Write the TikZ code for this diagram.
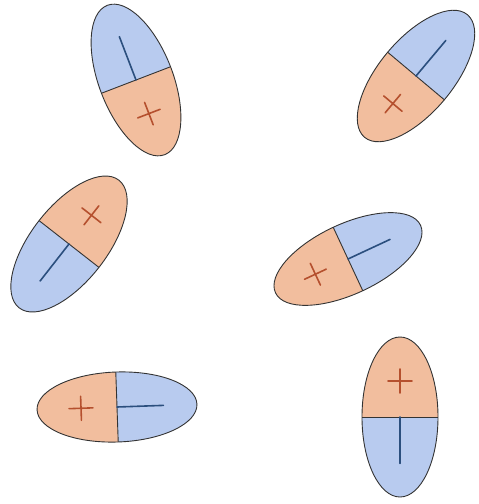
\documentclass[tikz,border=0pt]{standalone}
\usepackage{xcolor}
\definecolor{minusbg}{HTML}{B8CBEF}
\definecolor{plusbg}{HTML}{F2BE9E}
\definecolor{minusink}{HTML}{2B4F7E}
\definecolor{plusink}{HTML}{B5502E}
\tikzset{
  rim/.style={draw=black!80, line width=0.9pt},
  minusfill/.style={fill=minusbg},
  plusfill/.style={fill=plusbg},
  minusbar/.style={draw=minusink, line width=1.6pt, line cap=round},
  plusbar/.style={draw=plusink, line width=1.6pt, line cap=round},
}
\begin{document}
\begin{tikzpicture}[x=1pt, y=1pt]
  \useasboundingbox (0,0) rectangle (479,-504);
  % centre x / centre y / direction of the minus end / semi axes
  \foreach \cx/\cy/\ang/\a/\b in {136/80/111/80/37, 416/76/50/80/37,
      69/244/232/81/38, 348/259/25/80/35, 117/407/2/80/35, 400/417/-90/80/38}
  {
    \begin{scope}[shift={(\cx,-\cy)}, rotate=\ang]
      \fill[minusfill] (0,-\b) arc[start angle=-90, end angle=90, x radius=\a, y radius=\b] -- cycle;
      \fill[plusfill] (0,\b) arc[start angle=90, end angle=270, x radius=\a, y radius=\b] -- cycle;
      \draw[rim] (0,0) ellipse[x radius=\a, y radius=\b];
      \draw[rim] (0,-\b) -- (0,\b);
      \draw[minusbar] (0,0) -- ({0.58*\a},0);
      \draw[plusbar] ({-0.45*\a-12},0) -- ({-0.45*\a+12},0)
                     ({-0.45*\a},-12) -- ({-0.45*\a},12);
    \end{scope}
  }
\end{tikzpicture}
\end{document}
